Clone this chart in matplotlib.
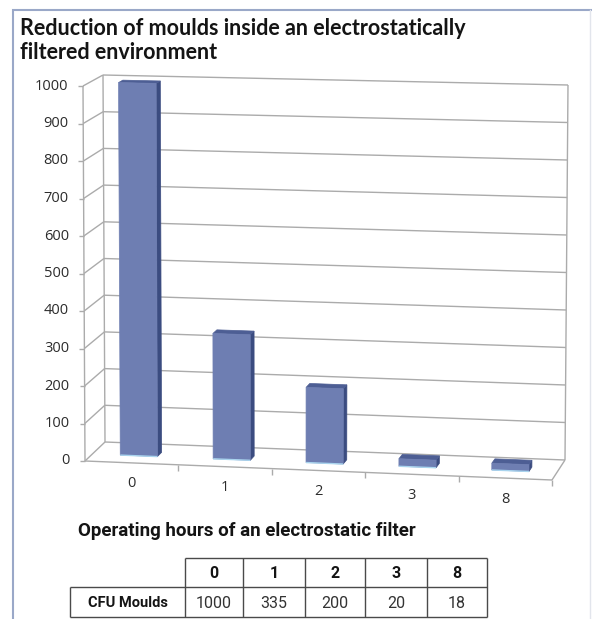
import matplotlib
matplotlib.use("Agg")
import matplotlib.pyplot as plt
from matplotlib.patches import Polygon

# ---- data -------------------------------------------------------------
hours = ["0", "1", "2", "3", "8"]
cfu = [1000, 335, 200, 20, 18]
y_ticks = [0, 100, 200, 300, 400, 500, 600, 700, 800, 900, 1000]
title_lines = ["Reduction of moulds inside an electrostatically", "filtered environment"]
x_title = "Operating hours of an electrostatic filter"
row_label = "CFU Moulds"

# ---- canvas -----------------------------------------------------------
W, H = 592, 619
fig = plt.figure(figsize=(W / 100, H / 100), dpi=100)
ax = fig.add_axes([0, 0, 1, 1])
ax.set_xlim(0, W)
ax.set_ylim(H, 0)
ax.axis("off")

# Box of the 3-D plot area: corners of the front and back planes
# keyed by (category fraction, value fraction).
FRONT = {(0, 0): (85, 461), (1, 0): (552, 480), (0, 1): (83, 86), (1, 1): (555, 97)}
BACK = {(0, 0): (105, 442), (1, 0): (565, 460), (0, 1): (103, 75), (1, 1): (568, 85)}
n_cat = len(hours)
v_max = y_ticks[-1]


def _plane(corners, s, t):
    x = ((1 - s) * (1 - t) * corners[(0, 0)][0] + s * (1 - t) * corners[(1, 0)][0]
         + (1 - s) * t * corners[(0, 1)][0] + s * t * corners[(1, 1)][0])
    y = ((1 - s) * (1 - t) * corners[(0, 0)][1] + s * (1 - t) * corners[(1, 0)][1]
         + (1 - s) * t * corners[(0, 1)][1] + s * t * corners[(1, 1)][1])
    return x, y


def project(u, v, w):
    """Category position u, value v, depth w (0 front .. 1 back) -> canvas."""
    s, t = u / n_cat, v / v_max
    fx, fy = _plane(FRONT, s, t)
    bx, by = _plane(BACK, s, t)
    return fx + (bx - fx) * w, fy + (by - fy) * w


def seg(p, q, **kw):
    ax.plot([p[0], q[0]], [p[1], q[1]], solid_capstyle="butt", **kw)


grid_kw = dict(color="#ABABAB", lw=1.0, zorder=1)
tick_font = dict(fontsize=10.5, family="Open Sans", color="#2C2C2C", zorder=5)

# walls and gridlines
for v in y_ticks:
    seg(project(0, v, 1), project(n_cat, v, 1), **grid_kw)
    seg(project(0, v, 0), project(0, v, 1), **grid_kw)
    fx, fy = project(0, v, 0)
    seg((fx - 5, fy), (fx, fy), **grid_kw)
    ax.text(fx - 15, fy, str(v), ha="right", va="center", **tick_font)

seg(project(0, 0, 1), project(0, v_max, 1), **grid_kw)
seg(project(n_cat, 0, 1), project(n_cat, v_max, 1), **grid_kw)
seg(project(0, 0, 0), project(0, v_max, 0), **grid_kw)

# bars
face_col, side_col, top_col = "#6E7EB2", "#3B4C80", "#4D5E94"
u_half, w0, w1 = 0.2, 0.37, 0.59
for i, val in enumerate(cfu):
    u0, u1 = i + 0.5 - u_half, i + 0.5 + u_half
    front = [project(u0, 0, w0), project(u1, 0, w0), project(u1, val, w0), project(u0, val, w0)]
    side = [project(u1, 0, w0), project(u1, 0, w1), project(u1, val, w1), project(u1, val, w0)]
    top = [project(u0, val, w0), project(u1, val, w0), project(u1, val, w1), project(u0, val, w1)]
    ax.add_patch(Polygon(side, closed=True, fc=side_col, ec=side_col, lw=0.5, zorder=3))
    ax.add_patch(Polygon(top, closed=True, fc=top_col, ec=top_col, lw=0.5, zorder=3))
    ax.add_patch(Polygon(front, closed=True, fc=face_col, ec=face_col, lw=0.5, zorder=3))
    seg(front[0], front[1], color="#A9D4EE", lw=1.0, zorder=4)

# floor edges, category ticks and labels
seg(project(0, 0, 0), project(n_cat, 0, 0), **grid_kw)
seg(project(n_cat, 0, 0), project(n_cat, 0, 1), **grid_kw)
for k in range(1, n_cat + 1):
    px, py = project(k, 0, 0)
    seg((px, py), (px, py + 6), **grid_kw)
for i, lab in enumerate(hours):
    px, py = project(i + 0.5, 0, 0)
    ax.text(px, py + 21, lab, ha="center", va="center", **tick_font)

# titles
for k, line in enumerate(title_lines):
    ax.text(20, 35 + 24 * k, line, ha="left", va="baseline", fontsize=15.5, family="Lato",
            weight="bold", color="#141414")
ax.text(78, 531, x_title, ha="left", va="center", fontsize=13.5, family="Roboto",
        weight="bold", color="#141414")

# data table
col_edges = [185, 243, 305, 365, 427, 487]
row_edges = [558, 587, 617]
tab_left = 70
tab_kw = dict(color="#4A4A4A", lw=1.0, zorder=2)
seg((col_edges[0], row_edges[0]), (col_edges[-1], row_edges[0]), **tab_kw)
seg((tab_left, row_edges[1]), (col_edges[-1], row_edges[1]), **tab_kw)
seg((tab_left, row_edges[2]), (col_edges[-1], row_edges[2]), **tab_kw)
seg((tab_left, row_edges[1]), (tab_left, row_edges[2]), **tab_kw)
for x in col_edges:
    seg((x, row_edges[0]), (x, row_edges[2]), **tab_kw)
for j, (lab, val) in enumerate(zip(hours, cfu)):
    cx = (col_edges[j] + col_edges[j + 1]) / 2
    ax.text(cx, (row_edges[0] + row_edges[1]) / 2 + 1, lab, ha="center", va="center",
            fontsize=11.5, family="Roboto", weight="bold", color="#141414")
    ax.text(cx, (row_edges[1] + row_edges[2]) / 2 + 1, str(val), ha="center", va="center",
            fontsize=11.5, family="Roboto", color="#333333")
ax.text((tab_left + col_edges[0]) / 2, (row_edges[1] + row_edges[2]) / 2 + 1, row_label,
        ha="center", va="center", fontsize=10.5, family="Roboto", weight="bold",
        color="#141414")

# outer frame
ax.plot([13, 13, W], [H, 10, 10], color="#9AA8C8", lw=1.5, solid_joinstyle="miter")
ax.plot([590, 590], [10, H], color="#E2E5EC", lw=1.0)

fig.savefig("out.png", dpi=100)
